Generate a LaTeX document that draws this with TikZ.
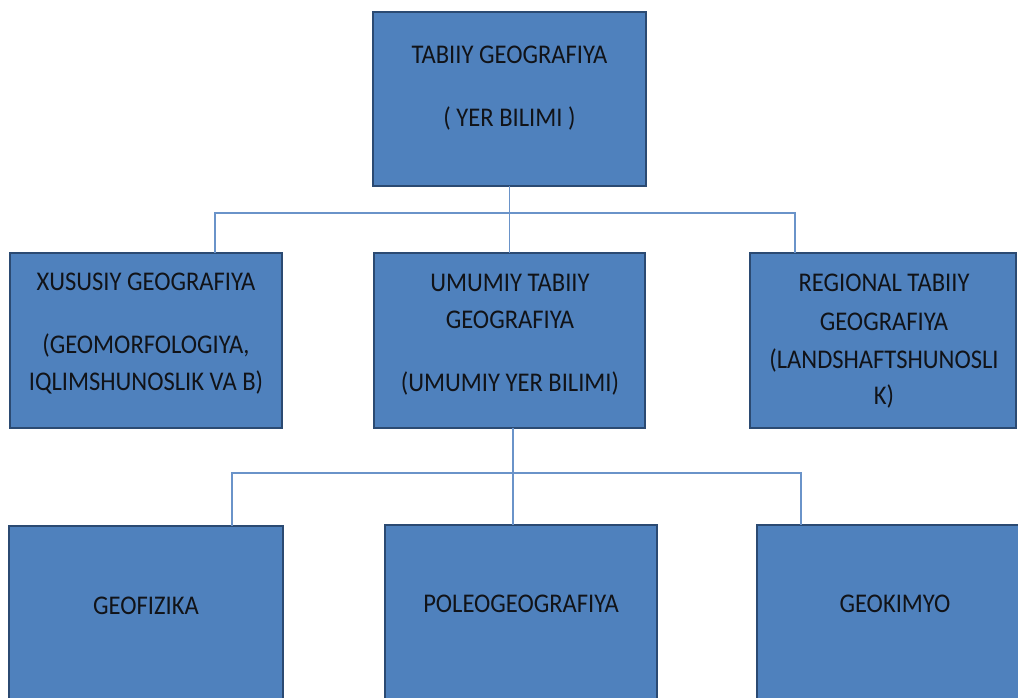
\documentclass[tikz,border=0pt]{standalone}
\usepackage{fontspec}
\setmainfont{Carlito}[FakeStretch=0.91]
\definecolor{boxfill}{HTML}{4F81BD}
\definecolor{boxline}{HTML}{2B4A72}
\definecolor{connc}{HTML}{6A93C9}
\definecolor{txtc}{HTML}{111318}
\begin{document}
\begin{tikzpicture}[x=1pt,y=-1pt,
  box/.style={draw=boxline, fill=boxfill, line width=2.5pt, inner sep=0pt, outer sep=0pt, anchor=north west},
  conn/.style={draw=connc, line width=1.3pt},
  txt/.style={anchor=base, inner sep=0pt, text=txtc, font=\fontsize{27}{37}\selectfont, yshift=-8.7pt}]
\useasboundingbox (0,0) rectangle (1018,697);
\clip (0,0) rectangle (1018,697);
% boxes
\node[box, minimum width=273pt, minimum height=174pt] (top) at (373,12) {};
\node[box, minimum width=272pt, minimum height=175pt] (l1) at (10,253) {};
\node[box, minimum width=271pt, minimum height=175pt] (m1) at (374,253) {};
\node[box, minimum width=266pt, minimum height=175pt] (r1) at (750,253) {};
\node[box, minimum width=274pt, minimum height=200pt] (b1) at (9,526) {};
\node[box, minimum width=272pt, minimum height=200pt] (b2) at (385,525) {};
\node[box, minimum width=290pt, minimum height=200pt] (b3) at (757,525) {};
% connectors
\coordinate (hl) at (215,213);
\coordinate (hr) at (795,213);
\draw[conn] (hl |- l1.north) -- (hl) -- (hr) -- (hr |- r1.north);
\draw[conn] (top.south) -- (m1.north);
\coordinate (bl) at (232,473);
\coordinate (br) at (801,473);
\coordinate (bm) at (513,473);
\draw[conn] (bl |- b1.north) -- (bl) -- (br) -- (br |- b3.north);
\draw[conn] (bm |- m1.south) -- (bm |- b2.north);
% texts
\node[txt] (t1) at (509.5,55) {TABIIY GEOGRAFIYA};
\node[txt] (t2) at (509.5,118) {( YER BILIMI )};
\node[txt] (l1a) at (146,282) {XUSUSIY GEOGRAFIYA};
\node[txt] (l1b) at (146,345) {(GEOMORFOLOGIYA,};
\node[txt] (l1c) at (146,382) {IQLIMSHUNOSLIK VA B)};
\node[txt] (m1a) at (510,283) {UMUMIY TABIIY};
\node[txt] (m1b) at (510,320) {GEOGRAFIYA};
\node[txt] (m1c) at (510,383) {(UMUMIY YER BILIMI)};
\node[txt] (r1a) at (884,283) {REGIONAL TABIIY};
\node[txt] (r1b) at (884,322) {GEOGRAFIYA};
\node[txt] (r1c) at (884,360) {(LANDSHAFTSHUNOSLI};
\node[txt] (r1d) at (884,396) {K)};
\node[txt] (b1t) at (146,606) {GEOFIZIKA};
\node[txt] (b2t) at (521,604) {POLEOGEOGRAFIYA};
\node[txt] (b3t) at (895,604) {GEOKIMYO};
\end{tikzpicture}
\end{document}
